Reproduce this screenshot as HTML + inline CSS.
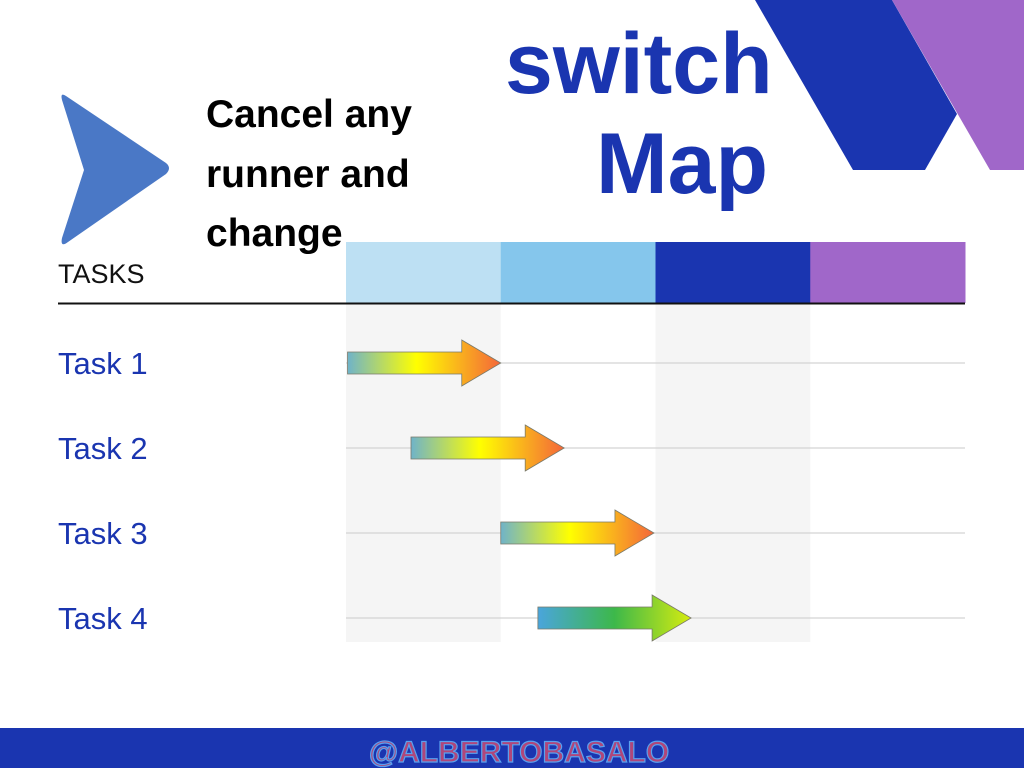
<!DOCTYPE html>
<html><head><meta charset="utf-8"><style>
html,body{margin:0;padding:0;width:1024px;height:768px;overflow:hidden;background:#fff;font-family:"Liberation Sans",sans-serif}
</style></head><body>
<svg width="1024" height="768" viewBox="0 0 1024 768" xmlns="http://www.w3.org/2000/svg">
<defs>
<linearGradient id="g1" x1="0" x2="1" y1="0" y2="0"><stop offset="0" stop-color="#6fb3c9"/><stop offset="0.45" stop-color="#ffff00"/><stop offset="1" stop-color="#f4663a"/></linearGradient>
<linearGradient id="g2" x1="0" x2="1" y1="0" y2="0"><stop offset="0" stop-color="#4aa5dc"/><stop offset="0.5" stop-color="#3db84a"/><stop offset="1" stop-color="#d6ec10"/></linearGradient>
</defs>
<polygon points="755,0 892,0 957,114 925,170 853,170" fill="#1a35b0"/>
<polygon points="892,0 1024,0 1024,170 990,170" fill="#a067c9"/>
<path d="M66,96 Q60,92 62,100 L84,170 L62,238 Q60,248 68,242 L166,174 Q172,168 166,163 Z" fill="#4a78c6"/>
<text font-weight="bold" font-size="39" fill="#000" x="206" y="127">Cancel any</text>
<text font-weight="bold" font-size="39" fill="#000" x="206" y="187">runner and</text>
<text font-weight="bold" font-size="39" fill="#000" x="206" y="246">change</text>
<text font-weight="bold" font-size="86" fill="#1a35b0" x="505" y="93">switch</text>
<text font-weight="bold" font-size="86" fill="#1a35b0" x="596" y="193">Map</text>
<g id="chart"></g>
<rect x="0" y="728" width="1024" height="40" fill="#1a35b0"/>
<text x="519" y="762" text-anchor="middle" font-size="30" font-weight="bold" fill="#b0467a" stroke="#5aa0ee" stroke-width="1.2">@ALBERTOBASALO</text>
</svg>
<script>
const columnColors = ["#bde0f3", "#85c6ec", "#1a35b0", "#a067c9"];
const tasks = ["Task 1", "Task 2", "Task 3", "Task 4"];
const taskStart = [0.01, 0.42, 1.0, 1.24];
const taskEnd = [1.0, 1.41, 1.99, 2.23];
const taskGradient = ["g1", "g1", "g1", "g2"];

const NS = "http://www.w3.org/2000/svg";
const g = document.getElementById("chart");
const X0 = 346, COLW = 154.75, ROW0 = 363, ROWH = 85;
const xs = v => X0 + v * COLW;
const ys = i => ROW0 + i * ROWH;
function mk(tag, attrs){const e=document.createElementNS(NS,tag);for(const k in attrs)e.setAttribute(k,attrs[k]);g.appendChild(e);return e;}

columnColors.forEach((c,i)=>{
  if(i%2===0){
    const bg = mk("rect",{x:xs(i),y:303,width:COLW,height:339,fill:"#f5f5f5"});
    
    
  }
  const h = mk("rect",{x:xs(i),y:242,width:COLW+0.5,height:61,fill:c});
  
  
});
const ax = mk("line",{x1:58,x2:965,y1:303.5,y2:303.5,stroke:"#111","stroke-width":2});


const tl = mk("text",{x:58,y:283,"font-size":27,fill:"#111"});
tl.textContent = "TASKS";



tasks.forEach((t,i)=>{
  const y = ys(i);
  const gl = mk("line",{x1:346,x2:965,y1:y,y2:y,stroke:"#d4d4d4","stroke-width":1.2});
  
  
  const lb = mk("text",{x:58,y:y+11,"font-size":31,fill:"#1a35b0"});
  lb.textContent = t;
  
  
  const x1 = xs(taskStart[i]), x2 = xs(taskEnd[i]), hx = x2 - 39;
  const pts = [[x1,y-11],[hx,y-11],[hx,y-23],[x2,y],[hx,y+23],[hx,y+11],[x1,y+11]].map(p=>p.join(",")).join(" ");
  const ar = mk("polygon",{points:pts,fill:"url(#"+taskGradient[i]+")",stroke:"#7a7a6a","stroke-width":0.8});
  
  
});
</script>
</body></html>
